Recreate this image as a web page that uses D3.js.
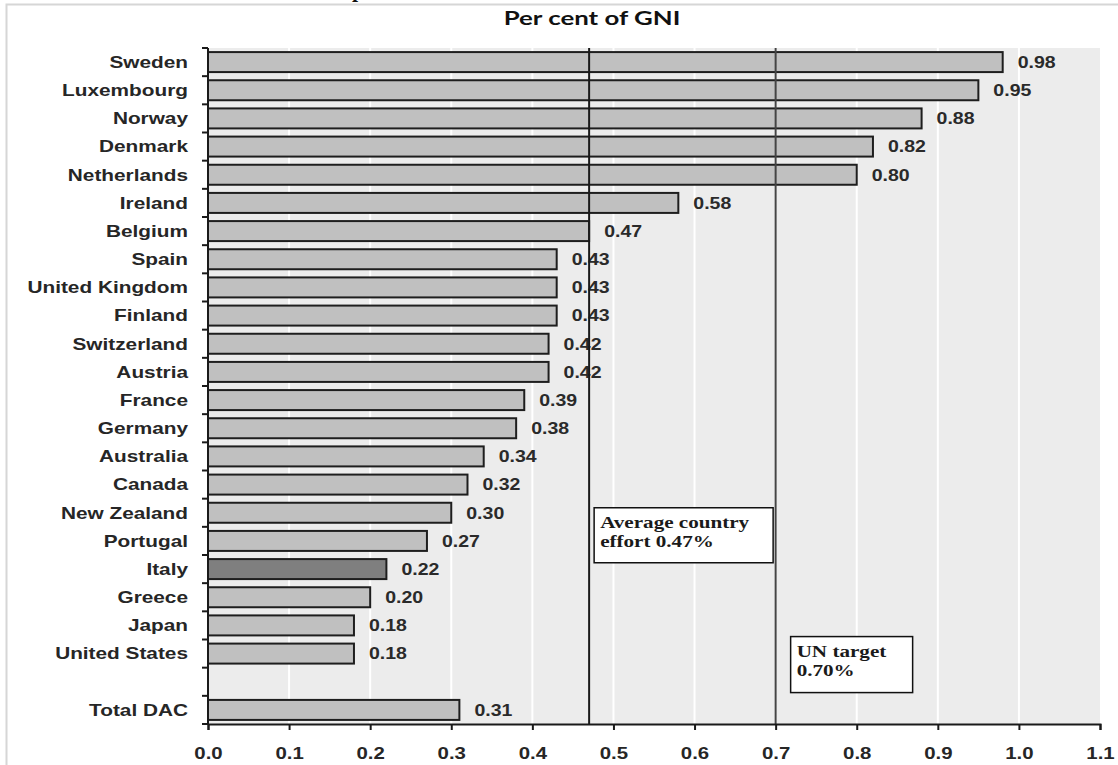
<!DOCTYPE html>
<html>
<head>
<meta charset="utf-8">
<script src="https://cdn.jsdelivr.net/npm/d3@7"></script>
<style>
  body { margin: 0; background: #ffffff; }
  svg { display: block; }
</style>
</head>
<body>
<div id="plot"></div>
<script>
// chart data
const countries = ["Sweden", "Luxembourg", "Norway", "Denmark", "Netherlands", "Ireland",
  "Belgium", "Spain", "United Kingdom", "Finland", "Switzerland", "Austria", "France",
  "Germany", "Australia", "Canada", "New Zealand", "Portugal", "Italy", "Greece",
  "Japan", "United States", "", "Total DAC"];
const values = [0.98, 0.95, 0.88, 0.82, 0.80, 0.58, 0.47, 0.43, 0.43, 0.43, 0.42, 0.42,
  0.39, 0.38, 0.34, 0.32, 0.30, 0.27, 0.22, 0.20, 0.18, 0.18, null, 0.31];
const highlighted = ["Italy"];
const xTicks = [0.0, 0.1, 0.2, 0.3, 0.4, 0.5, 0.6, 0.7, 0.8, 0.9, 1.0, 1.1];
const averageEffort = 0.47;
const unTarget = 0.70;
const title = "Per cent of GNI";

let width = 1118,
    height = 765;

let margin = { top: 48, bottom: 41, left: 208, right: 18 };

// the source picture is stretched sideways, so text gets the same stretch
const stretch = 1.3;

let svg = d3.select('#plot')
  .append('svg')
    .attr('width', width)
    .attr('height', height);

// outer frame
svg.append('rect')
  .attr('x', 6.5).attr('y', 4.5)
  .attr('width', 1200).attr('height', 900)
  .attr('fill', '#ffffff')
  .attr('stroke', '#d6d6d6')
  .attr('stroke-width', 2);

// cut-off glyph from a heading above the frame
svg.append('text')
  .attr('transform', 'translate(352,-3)')
  .attr('font-family', 'Liberation Serif')
  .attr('font-weight', 'bold')
  .attr('font-size', '22px')
  .attr('fill', '#111')
  .text('p');

let xScale = d3.scaleLinear()
  .domain([0, 1.1])
  .range([margin.left, width - margin.right]);

let yScale = d3.scaleBand()
  .domain(countries.map((c, i) => i))
  .range([margin.top, height - margin.bottom])
  .paddingInner(0.29)
  .paddingOuter(0.145);

let plotBottom = height - margin.bottom;

// gray plot area
svg.append('rect')
  .attr('x', xScale(0)).attr('y', margin.top)
  .attr('width', xScale(1.1) - xScale(0))
  .attr('height', plotBottom - margin.top)
  .attr('fill', '#ececec');

// white gridlines
svg.append('g')
  .selectAll('line')
  .data(xTicks.filter(t => t > 0 && t < 1.1))
  .enter()
  .append('line')
    .attr('x1', d => xScale(d)).attr('x2', d => xScale(d))
    .attr('y1', margin.top).attr('y2', plotBottom)
    .attr('stroke', '#ffffff')
    .attr('stroke-width', 2);

// bars
let rows = countries.map((c, i) => ({ name: c, value: values[i], index: i }))
  .filter(d => d.value !== null);

svg.append('g')
  .selectAll('rect')
  .data(rows)
  .enter()
  .append('rect')
    .attr('x', xScale(0))
    .attr('y', d => yScale(d.index))
    .attr('width', d => xScale(d.value) - xScale(0))
    .attr('height', yScale.bandwidth())
    .attr('fill', d => highlighted.includes(d.name) ? '#7f7f7f' : '#c0c0c0')
    .attr('stroke', '#1e1e1e')
    .attr('stroke-width', 2);

// value labels
svg.append('g')
  .selectAll('text')
  .data(rows)
  .enter()
  .append('text')
    .attr('transform', d => `translate(${xScale(d.value) + 15},${yScale(d.index) + yScale.bandwidth() / 2}) scale(1.22,1)`)
    .attr('dy', '0.36em')
    .attr('font-family', 'Liberation Sans')
    .attr('font-weight', 'bold')
    .attr('font-size', '16px')
    .attr('fill', '#2a2a2a')
    .text(d => d3.format('.2f')(d.value));

// reference lines
[averageEffort, unTarget].forEach(function(v) {
  svg.append('line')
    .attr('x1', xScale(v)).attr('x2', xScale(v))
    .attr('y1', margin.top).attr('y2', plotBottom)
    .attr('stroke', v === unTarget ? '#444' : '#1a1a1a')
    .attr('stroke-width', 2);
});

// category axis: line, ticks on band edges, labels
let step = yScale.step();
let edges = d3.range(countries.length + 1).map(i => margin.top + i * step);

svg.append('line')
  .attr('x1', xScale(0)).attr('x2', xScale(0))
  .attr('y1', margin.top).attr('y2', plotBottom)
  .attr('stroke', '#1a1a1a').attr('stroke-width', 2);

svg.append('g')
  .selectAll('line')
  .data(edges)
  .enter()
  .append('line')
    .attr('x1', xScale(0) - 6).attr('x2', xScale(0))
    .attr('y1', d => d).attr('y2', d => d)
    .attr('stroke', '#1a1a1a').attr('stroke-width', 2);

svg.append('g')
  .selectAll('text')
  .data(rows)
  .enter()
  .append('text')
    .attr('transform', d => `translate(${xScale(0) - 20},${yScale(d.index) + yScale.bandwidth() / 2}) scale(${stretch},1)`)
    .attr('dy', '0.36em')
    .attr('text-anchor', 'end')
    .attr('font-family', 'Liberation Sans')
    .attr('font-weight', 'bold')
    .attr('font-size', '16px')
    .attr('fill', '#262626')
    .text(d => d.name);

// value axis
let xAxis = svg.append('g')
  .attr('transform', `translate(0,${plotBottom})`)
  .call(d3.axisBottom(xScale).tickValues(xTicks).tickSize(6).tickFormat(d3.format('.1f')));

xAxis.select('.domain').attr('stroke', '#1a1a1a').attr('stroke-width', 2);
xAxis.selectAll('.tick line').attr('stroke', '#1a1a1a').attr('stroke-width', 2);
xAxis.selectAll('.tick text')
  .attr('y', 0)
  .attr('dy', 0)
  .attr('transform', 'translate(0,35) scale(1.2,1)')
  .attr('font-family', 'Liberation Sans')
  .attr('font-weight', 'bold')
  .attr('font-size', '17px')
  .attr('fill', '#262626');

// title
svg.append('text')
  .attr('transform', `translate(592,25) scale(1.36,1)`)
  .attr('text-anchor', 'middle')
  .attr('font-family', 'Lato')
  .attr('font-weight', 'bold')
  .attr('font-size', '19px')
  .attr('fill', '#111')
  .text(title);

// annotation boxes
function noteBox(x, y, w, h, lines) {
  let g = svg.append('g').attr('transform', `translate(${x},${y})`);
  g.append('rect')
    .attr('width', w).attr('height', h)
    .attr('fill', '#ffffff')
    .attr('stroke', '#111')
    .attr('stroke-width', 1.5);
  lines.forEach(function(t, i) {
    g.append('text')
      .attr('transform', `translate(6,${20 + i * 19}) scale(1.32,1)`)
      .attr('font-family', 'Liberation Serif')
      .attr('font-weight', 'bold')
      .attr('font-size', '16px')
      .attr('fill', '#1a1a1a')
      .text(t);
  });
}

let nz = countries.indexOf("New Zealand");
let us = countries.indexOf("United States");
noteBox(xScale(averageEffort) + 5, yScale(nz) + 5, 179, 55,
  ["Average country", "effort " + d3.format('.2f')(averageEffort) + "%"]);
noteBox(xScale(unTarget) + 15, yScale(us) - 7, 122, 56,
  ["UN target", d3.format('.2f')(unTarget) + "%"]);
</script>
</body>
</html>
